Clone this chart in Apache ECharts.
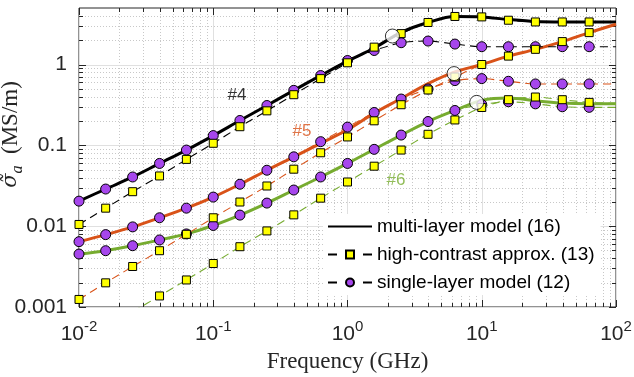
<!DOCTYPE html>
<html>
<head>
<meta charset="utf-8">
<script src="https://cdn.jsdelivr.net/npm/echarts@6/dist/echarts.min.js"></script>
<style>
  html, body { margin: 0; padding: 0; background: #fff; }
  #chart { width: 634px; height: 377px; }
</style>
</head>
<body>
<div id="chart"></div>
<script>
// Frequency samples (GHz); the first 20 carry markers, the last one only extends the curves
const freq = [0.01, 0.0158, 0.0251, 0.0398, 0.0631, 0.1, 0.158, 0.251, 0.398, 0.631,
              1, 1.58, 2.51, 3.98, 6.31, 10, 15.8, 25.1, 39.8, 63.1, 100];

// Sample #4 (MS/m)
const multi4  = [0.0204, 0.0288, 0.0406, 0.0597, 0.0874, 0.132, 0.203, 0.311, 0.479, 0.730,
                 1.10, 1.60, 2.50, 3.31, 3.93, 3.88, 3.60, 3.40, 3.36, 3.36, 3.36];
const high4   = [0.0105, 0.0167, 0.0267, 0.0418, 0.0670, 0.106, 0.170, 0.267, 0.423, 0.669,
                 1.05, 1.64, 2.41, 3.31, 3.93, 3.88, 3.53, 3.36, 3.36, 3.36, 3.36];
const single4 = [0.0204, 0.0288, 0.0406, 0.0597, 0.0874, 0.132, 0.203, 0.311, 0.479, 0.730,
                 1.12, 1.49, 1.86, 1.95, 1.79, 1.66, 1.66, 1.66, 1.66, 1.66, 1.66];

// Sample #5 (MS/m)
const multi5  = [0.00643, 0.00786, 0.0098, 0.0127, 0.0167, 0.0229, 0.0330, 0.0492, 0.0721, 0.106,
                 0.156, 0.250, 0.380, 0.580, 0.810, 1.00, 1.27, 1.54, 1.92, 2.48, 3.15];
const high5   = [0.00124, 0.00199, 0.00317, 0.00497, 0.00793, 0.0127, 0.0199, 0.0314, 0.0507, 0.0809,
                 0.127, 0.201, 0.318, 0.484, 0.700, 1.00, 1.27, 1.54, 1.92, 2.48, 3.15];
const single5 = [0.00643, 0.00786, 0.0098, 0.0127, 0.0167, 0.0229, 0.0330, 0.0492, 0.0721, 0.111,
                 0.168, 0.255, 0.374, 0.498, 0.632, 0.669, 0.620, 0.575, 0.575, 0.575, 0.575];

// Sample #6 (MS/m)
const multi6  = [0.00452, 0.00497, 0.00573, 0.00675, 0.00802, 0.0102, 0.0137, 0.0193, 0.0280, 0.0406,
                 0.0597, 0.0892, 0.134, 0.197, 0.270, 0.360, 0.385, 0.356, 0.333, 0.327, 0.327];
const high6   = [null, null, 0.00087, 0.00137, 0.00216, 0.00345, 0.00557, 0.00873, 0.0138, 0.0222,
                 0.0352, 0.0552, 0.0874, 0.137, 0.206, 0.294, 0.367, 0.396, 0.367, 0.340, 0.330];
const single6 = [0.00452, 0.00497, 0.00573, 0.00675, 0.00802, 0.0102, 0.0137, 0.0193, 0.0280, 0.0406,
                 0.0597, 0.0892, 0.134, 0.197, 0.270, 0.320, 0.346, 0.326, 0.300, 0.295, 0.295];

// Transition points marked with open circles
const transFreq = [2.16, 6.22, 9.17];
const transVal  = [2.25, 0.772, 0.34];

// Sample tags
const sampleNames = ['#4', '#5', '#6'];
const tagFreq = [0.150, 0.458, 2.30];
const tagVal  = [0.411, 0.151, 0.037];

// Axis ticks
const xTickValues = [0.01, 0.1, 1, 10, 100];
const xTickExp    = ['-2', '-1', '0', '1', '2'];
const yTickValues = [0.001, 0.01, 0.1, 1];
const yTickLabels = ['0.001', '0.01', '0.1', '1'];

const legendNames = ['multi-layer model (16)', 'high-contrast approx. (13)', 'single-layer model (12)'];

const xMin = 0.01, xMax = 100, yMin = 0.001, yMax = 5;
const colors = ['#000000', '#D95319', '#77AC30'];
const purple = '#a646ec';
const yellow = '#ffff00';
const axisColor = '#262626';
const sans = 'Liberation Sans';
const serif = 'Liberation Serif';

function curve(vals) {
  const out = [];
  vals.forEach((v, i) => { if (v != null) out.push([freq[i], v]); });
  return out;
}
function marked(vals) {
  const out = [];
  vals.forEach((v, i) => {
    if (v == null) return;
    const item = { value: [freq[i], v] };
    if (i === freq.length - 1 || v < yMin) item.symbol = 'none';
    out.push(item);
  });
  return out;
}

function solidSeries(vals, color) {
  return {
    type: 'line', name: legendNames[0], data: curve(vals), symbol: 'none',
    smooth: 0.35, z: 3, silent: true,
    lineStyle: { color: color, width: 3 }, itemStyle: { color: color }
  };
}
function dashedSeries(vals, color, kind) {
  const isSquare = kind === 'high';
  return {
    type: 'line', name: isSquare ? legendNames[1] : legendNames[2], data: marked(vals),
    symbol: isSquare ? 'rect' : 'circle', symbolSize: isSquare ? 8 : 10, showSymbol: true,
    smooth: 0.25, z: isSquare ? 5 : 4, silent: true,
    lineStyle: { color: color, width: 1.1, type: [8, 5] },
    itemStyle: { color: isSquare ? yellow : purple, borderColor: '#000', borderWidth: 1 }
  };
}

// Decade and sub-decade positions for the grid and ticks
const xMinor = [], yMinor = [];
for (let d = -2; d < 2; d++) for (let m = 2; m <= 9; m++) xMinor.push(m * Math.pow(10, d));
for (let d = -3; d < 1; d++) for (let m = 2; m <= 9; m++) { const v = m * Math.pow(10, d); if (v < yMax) yMinor.push(v); }

function renderXGrid(params, api) {
  const cs = params.coordSys;
  const px = Math.round(api.coord([api.value(0), 1])[0]) + 0.5;
  const major = api.value(2) === 1;
  const top = cs.y, bottom = cs.y + cs.height, tl = major ? 7 : 4;
  return { type: 'group', children: [
    { type: 'line', shape: { x1: px, y1: top, x2: px, y2: bottom },
      style: { stroke: major ? '#e0e0e0' : '#c8c8c8', lineWidth: 1, lineDash: major ? null : [1, 2] } },
    { type: 'line', shape: { x1: px, y1: bottom, x2: px, y2: bottom - tl }, style: { stroke: axisColor, lineWidth: 1 } },
    { type: 'line', shape: { x1: px, y1: top, x2: px, y2: top + tl }, style: { stroke: axisColor, lineWidth: 1 } }
  ]};
}
function renderYGrid(params, api) {
  const cs = params.coordSys;
  const py = Math.round(api.coord([1, api.value(1)])[1]) + 0.5;
  const major = api.value(2) === 1;
  const left = cs.x, right = cs.x + cs.width, tl = major ? 7 : 4;
  return { type: 'group', children: [
    { type: 'line', shape: { x1: left, y1: py, x2: right, y2: py },
      style: { stroke: major ? '#e0e0e0' : '#c8c8c8', lineWidth: 1, lineDash: major ? null : [1, 2] } },
    { type: 'line', shape: { x1: left, y1: py, x2: left + tl, y2: py }, style: { stroke: axisColor, lineWidth: 1 } },
    { type: 'line', shape: { x1: right, y1: py, x2: right - tl, y2: py }, style: { stroke: axisColor, lineWidth: 1 } }
  ]};
}

const series = [
  { type: 'custom', renderItem: renderXGrid, silent: true, z: 1, clip: false,
    data: xTickValues.map(v => [v, 1, 1]).concat(xMinor.map(v => [v, 1, 0])), encode: { x: 0, y: 1 } },
  { type: 'custom', renderItem: renderYGrid, silent: true, z: 1, clip: false,
    data: yTickValues.map(v => [1, v, 1]).concat(yMinor.map(v => [1, v, 0])), encode: { x: 0, y: 1 } },

  solidSeries(multi4, colors[0]),
  dashedSeries(high4, colors[0], 'high'),
  dashedSeries(single4, colors[0], 'single'),
  solidSeries(multi5, colors[1]),
  dashedSeries(high5, colors[1], 'high'),
  dashedSeries(single5, colors[1], 'single'),
  solidSeries(multi6, colors[2]),
  dashedSeries(high6, colors[2], 'high'),
  dashedSeries(single6, colors[2], 'single'),

  { type: 'scatter', silent: true, z: 6, symbol: 'circle', symbolSize: 14,
    itemStyle: { color: '#fff', borderColor: '#000', borderWidth: 1 },
    data: transFreq.map((f, i) => [f, transVal[i]]) },

  { type: 'scatter', silent: true, z: 7, symbolSize: 1, itemStyle: { color: 'transparent' },
    label: { show: true, position: 'inside', fontFamily: sans, fontSize: 17, formatter: p => p.name },
    data: sampleNames.map((n, i) => ({ name: n, value: [tagFreq[i], tagVal[i]], label: { color: colors[i] } })) }
];

const chart = echarts.init(document.getElementById('chart'), null, { renderer: 'canvas' });
chart.setOption({
  animation: false,
  backgroundColor: '#fff',
  grid: { left: 79, right: 18, top: 8, bottom: 70, show: true, borderColor: axisColor, borderWidth: 1,
          backgroundColor: 'transparent', containLabel: false, outerBoundsMode: 'none' },
  xAxis: {
    type: 'log', logBase: 10, min: xMin, max: xMax,
    axisLine: { show: false }, axisTick: { show: false }, splitLine: { show: false }, minorTick: { show: false },
    axisLabel: {
      margin: 12, color: axisColor,
      formatter: v => { const i = xTickValues.findIndex(t => Math.abs(Math.log10(t) - Math.log10(v)) < 1e-6); return i < 0 ? '' : '{b|10}{s|' + xTickExp[i] + '}'; },
      rich: {
        b: { fontFamily: sans, fontSize: 21, color: axisColor, lineHeight: 30 },
        s: { fontFamily: sans, fontSize: 15, color: axisColor, lineHeight: 15, verticalAlign: 'top' }
      }
    },
    name: 'Frequency (GHz)', nameLocation: 'middle', nameGap: 43, nameMoveOverlap: false,
    nameTextStyle: { fontFamily: serif, fontSize: 23, color: axisColor }
  },
  yAxis: {
    type: 'log', logBase: 10, min: yMin, max: yMax,
    axisLine: { show: false }, axisTick: { show: false }, splitLine: { show: false }, minorTick: { show: false },
    axisLabel: {
      margin: 12, color: axisColor, fontFamily: sans, fontSize: 21, showMaxLabel: false,
      formatter: v => { const i = yTickValues.findIndex(t => Math.abs(Math.log10(t) - Math.log10(v)) < 1e-6); return i < 0 ? '' : yTickLabels[i]; }
    },
    name: '{g|σ̃}{sub|a}{t|  (MS/m)}', nameLocation: 'middle', nameGap: 53, nameMoveOverlap: false,
    nameTextStyle: {
      color: axisColor, padding: [0, 0, 0, 46],
      rich: {
        g: { fontFamily: 'DejaVu Serif', fontStyle: 'italic', fontSize: 21, lineHeight: 30, color: axisColor },
        sub: { fontFamily: serif, fontStyle: 'italic', fontSize: 16, lineHeight: 16, verticalAlign: 'bottom', color: axisColor },
        t: { fontFamily: serif, fontSize: 23, lineHeight: 30, color: axisColor }
      }
    }
  },
  legend: {
    orient: 'vertical', left: 323, top: 214, padding: [3, 6, 3, 4], backgroundColor: '#fff',
    itemWidth: 44, itemHeight: 10, itemGap: 9,
    textStyle: { fontFamily: sans, fontSize: 19, color: '#000' },
    data: [
      { name: legendNames[0], itemStyle: { opacity: 0 } },
      { name: legendNames[1], lineStyle: { type: [9, 26] } },
      { name: legendNames[2], lineStyle: { type: [9, 26] } }
    ]
  },
  series: series
});
</script>
</body>
</html>
